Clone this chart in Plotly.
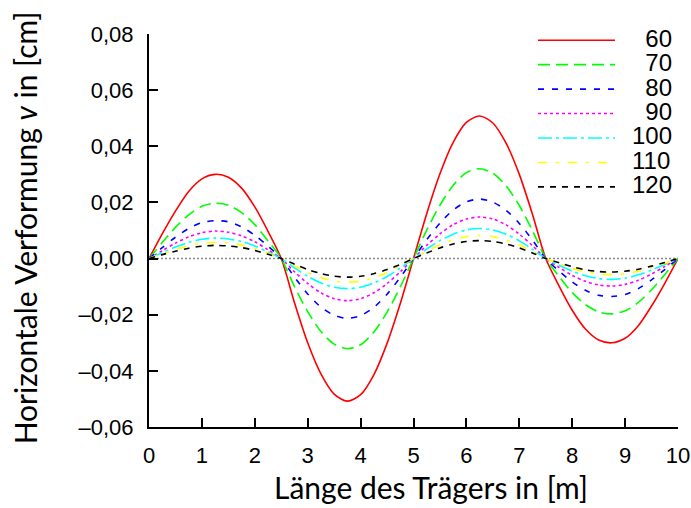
import plotly.graph_objects as go

x_m = [i * 0.25 for i in range(41)]

v60 = [0, 0.0088, 0.0169, 0.0239, 0.0284, 0.0300, 0.0290, 0.0251, 0.0184, 0.0097,
       0, -0.0157, -0.0300, -0.0411, -0.0483, -0.0508, -0.0485, -0.0414, -0.0302, -0.0160,
       0, 0.0160, 0.0302, 0.0414, 0.0485, 0.0508, 0.0483, 0.0411, 0.0300, 0.0157,
       0, -0.0097, -0.0184, -0.0251, -0.0290, -0.0300, -0.0284, -0.0239, -0.0169, -0.0088, 0]
v70 = [0, 0.0057, 0.0111, 0.0156, 0.0186, 0.0197, 0.0190, 0.0164, 0.0121, 0.0063,
       0, -0.0100, -0.0189, -0.0260, -0.0305, -0.0321, -0.0307, -0.0262, -0.0191, -0.0101,
       0, 0.0101, 0.0190, 0.0261, 0.0306, 0.0320, 0.0304, 0.0259, 0.0189, 0.0099,
       0, -0.0063, -0.0121, -0.0164, -0.0190, -0.0197, -0.0186, -0.0156, -0.0111, -0.0057, 0]
v80 = [0, 0.0039, 0.0076, 0.0107, 0.0128, 0.0135, 0.0131, 0.0113, 0.0083, 0.0044,
       0, -0.0066, -0.0126, -0.0173, -0.0202, -0.0213, -0.0203, -0.0174, -0.0127, -0.0067,
       0, 0.0067, 0.0126, 0.0173, 0.0202, 0.0212, 0.0201, 0.0172, 0.0125, 0.0066,
       0, -0.0044, -0.0083, -0.0113, -0.0131, -0.0135, -0.0128, -0.0107, -0.0076, -0.0039, 0]
v90 = [0, 0.0028, 0.0055, 0.0077, 0.0092, 0.0098, 0.0094, 0.0081, 0.0060, 0.0031,
       0, -0.0047, -0.0089, -0.0122, -0.0143, -0.0150, -0.0143, -0.0122, -0.0089, -0.0047,
       0, 0.0047, 0.0088, 0.0121, 0.0141, 0.0148, 0.0141, 0.0120, 0.0087, 0.0046,
       0, -0.0031, -0.0060, -0.0081, -0.0094, -0.0098, -0.0092, -0.0077, -0.0055, -0.0028, 0]
v100 = [0, 0.0021, 0.0041, 0.0058, 0.0069, 0.0073, 0.0070, 0.0061, 0.0045, 0.0023,
        0, -0.0033, -0.0063, -0.0087, -0.0102, -0.0107, -0.0102, -0.0087, -0.0064, -0.0034,
        0, 0.0034, 0.0064, 0.0087, 0.0102, 0.0107, 0.0102, 0.0087, 0.0063, 0.0033,
        0, -0.0024, -0.0045, -0.0061, -0.0071, -0.0074, -0.0070, -0.0058, -0.0041, -0.0021, 0]
v110 = [0, 0.0017, 0.0032, 0.0046, 0.0055, 0.0058, 0.0056, 0.0048, 0.0035, 0.0019,
        0, -0.0026, -0.0050, -0.0068, -0.0080, -0.0084, -0.0080, -0.0068, -0.0050, -0.0026,
        0, 0.0026, 0.0049, 0.0067, 0.0078, 0.0082, 0.0078, 0.0066, 0.0048, 0.0025,
        0, -0.0018, -0.0035, -0.0047, -0.0055, -0.0057, -0.0054, -0.0045, -0.0032, -0.0017, 0]
v120 = [0, 0.0014, 0.0026, 0.0037, 0.0044, 0.0047, 0.0045, 0.0039, 0.0029, 0.0015,
        0, -0.0020, -0.0039, -0.0053, -0.0063, -0.0066, -0.0063, -0.0054, -0.0039, -0.0021,
        0, 0.0020, 0.0038, 0.0052, 0.0061, 0.0064, 0.0061, 0.0052, 0.0038, 0.0020,
        0, -0.0015, -0.0029, -0.0040, -0.0046, -0.0048, -0.0045, -0.0038, -0.0027, -0.0014, 0]

series_names = ["60", "70", "80", "90", "100", "110", "120"]
series_values = [v60, v70, v80, v90, v100, v110, v120]
colors = ["#ff0000", "#00ff00", "#0000ff", "#ff00ff", "#00ffff", "#ffff00", "#000000"]
dashes = ["solid", "12px,6px", "6px,8px", "3px,3px", "14px,4px,3px,4px", "9px,9px,3px,9px", "6px,6px"]

x_ticks = list(range(0, 11))
y_ticks = [-0.06, -0.04, -0.02, 0.0, 0.02, 0.04, 0.06, 0.08]
y_ticktext = ["\u20130,06", "\u20130,04", "\u20130,02", "0,00", "0,02", "0,04", "0,06", "0,08"]

x_title = "Länge des Trägers in [m]"
y_title = "Horizontale Verformung <i>v</i> in [cm]"

title_font = dict(family="Lato, DejaVu Sans, sans-serif", size=30, color="black")

fig = go.Figure()

# zero reference line
fig.add_trace(go.Scatter(x=[x_ticks[0], x_ticks[-1]], y=[0, 0], mode="lines",
                         line=dict(color="#888888", width=1.5, dash="2px,2px"),
                         showlegend=False, hoverinfo="skip"))

for name, vals, c, d in zip(series_names, series_values, colors, dashes):
    pad = "\u2002" + ("" if len(name) == 3 else "\u2007")
    label = '<span style="font-size:24px">' + pad + name + "</span>"
    fig.add_trace(go.Scatter(x=x_m, y=vals, mode="lines", name=label,
                             line=dict(color=c, width=1.6, dash=d, shape="spline", smoothing=0.8)))

fig.update_layout(
    width=691, height=508, autosize=False,
    margin=dict(l=149, r=13, t=34, b=81),
    paper_bgcolor="white", plot_bgcolor="white",
    font=dict(family="Liberation Sans, Arial, sans-serif", size=22, color="black"),
    legend=dict(x=1.0, y=1.028, xanchor="right", yanchor="top",
                bgcolor="rgba(0,0,0,0)", font=dict(size=16.5), tracegroupgap=0,
                itemwidth=77),
    showlegend=True,
    annotations=[
        dict(text=x_title, xref="paper", yref="paper", x=0.533, y=-0.152,
             xanchor="center", yanchor="middle", showarrow=False, font=title_font),
        dict(text=y_title, xref="paper", yref="paper", x=-0.234, y=0.506,
             xanchor="center", yanchor="middle", showarrow=False, textangle=-90,
             font=title_font),
    ],
)
fig.update_xaxes(range=[0, 10], tickvals=x_ticks, ticks="inside", ticklen=9, tickwidth=1.5,
                 tickcolor="black", showline=True, linecolor="black", linewidth=2,
                 showgrid=False, zeroline=False, mirror=False, automargin=False,
                 ticklabelstandoff=8, ticklabeloverflow="allow")
fig.update_yaxes(range=[-0.06, 0.08], tickvals=y_ticks, ticktext=y_ticktext, ticks="inside",
                 ticklen=9, tickwidth=1.5, tickcolor="black", showline=True, linecolor="black",
                 linewidth=2, showgrid=False, zeroline=False, mirror=False, automargin=False,
                 ticklabelstandoff=9)

fig.write_html("out.html",
               config={"responsive": False, "displayModeBar": False},
               post_script="document.body.style.margin='0';document.body.style.overflow='hidden';")
